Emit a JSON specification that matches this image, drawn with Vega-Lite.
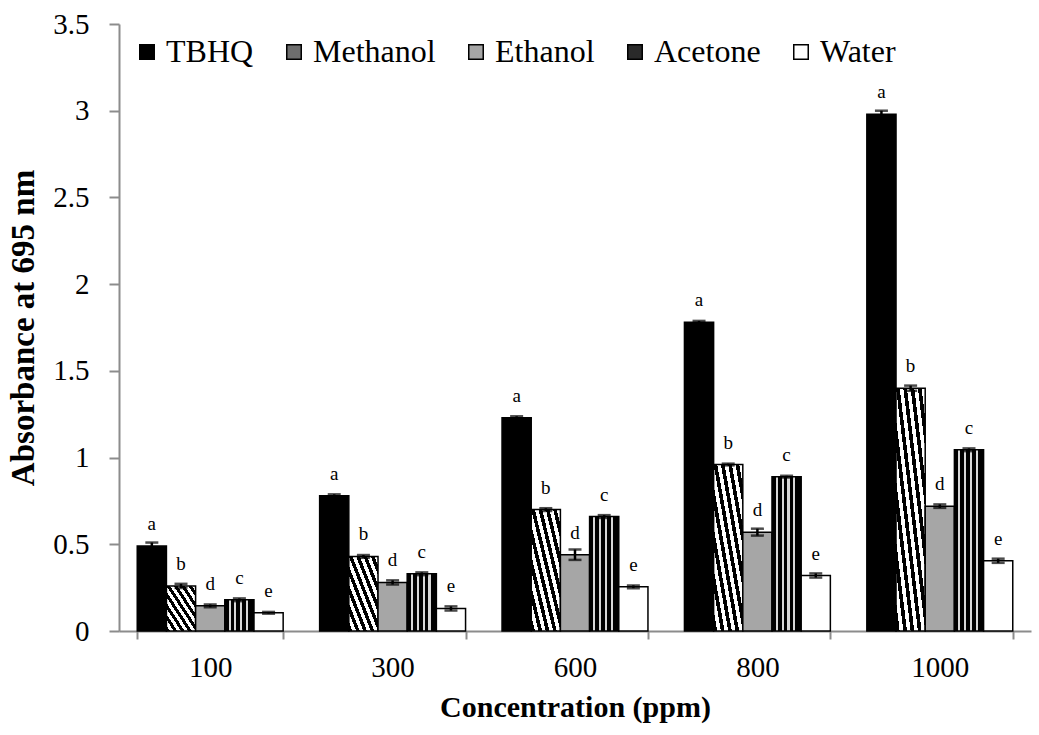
{
  "$schema": "https://vega.github.io/schema/vega-lite/v6.json",
  "width": 912,
  "height": 607,
  "autosize": "none",
  "padding": {"left": 119, "top": 24, "right": 8, "bottom": 104},
  "config": {
    "font": "Liberation Serif",
    "view": {"stroke": null},
    "legend": {"labelFont": "Liberation Serif"},
    "axis": {
      "domainColor": "#8c8c8c",
      "domainWidth": 2,
      "tickColor": "#8c8c8c",
      "tickWidth": 2,
      "labelColor": "#000000",
      "labelFont": "Liberation Serif",
      "labelFontSize": 29,
      "titleFont": "Liberation Serif",
      "titleFontSize": 30,
      "titleFontWeight": "bold",
      "titleColor": "#000000",
      "grid": false
    }
  },
  "data": {
    "values": [
      {"conc": "100", "solvent": "TBHQ", "value": 0.49, "err": 0.02, "letter": "a"},
      {"conc": "100", "solvent": "Methanol", "value": 0.26, "err": 0.012, "letter": "b"},
      {"conc": "100", "solvent": "Ethanol", "value": 0.145, "err": 0.008, "letter": "d"},
      {"conc": "100", "solvent": "Acetone", "value": 0.18, "err": 0.008, "letter": "c"},
      {"conc": "100", "solvent": "Water", "value": 0.105, "err": 0.005, "letter": "e"},
      {"conc": "300", "solvent": "TBHQ", "value": 0.78, "err": 0.008, "letter": "a"},
      {"conc": "300", "solvent": "Methanol", "value": 0.43, "err": 0.008, "letter": "b"},
      {"conc": "300", "solvent": "Ethanol", "value": 0.28, "err": 0.012, "letter": "d"},
      {"conc": "300", "solvent": "Acetone", "value": 0.33, "err": 0.008, "letter": "c"},
      {"conc": "300", "solvent": "Water", "value": 0.13, "err": 0.012, "letter": "e"},
      {"conc": "600", "solvent": "TBHQ", "value": 1.23, "err": 0.008, "letter": "a"},
      {"conc": "600", "solvent": "Methanol", "value": 0.70, "err": 0.008, "letter": "b"},
      {"conc": "600", "solvent": "Ethanol", "value": 0.44, "err": 0.03, "letter": "d"},
      {"conc": "600", "solvent": "Acetone", "value": 0.66, "err": 0.008, "letter": "c"},
      {"conc": "600", "solvent": "Water", "value": 0.255, "err": 0.008, "letter": "e"},
      {"conc": "800", "solvent": "TBHQ", "value": 1.78, "err": 0.008, "letter": "a"},
      {"conc": "800", "solvent": "Methanol", "value": 0.96, "err": 0.005, "letter": "b"},
      {"conc": "800", "solvent": "Ethanol", "value": 0.57, "err": 0.02, "letter": "d"},
      {"conc": "800", "solvent": "Acetone", "value": 0.89, "err": 0.005, "letter": "c"},
      {"conc": "800", "solvent": "Water", "value": 0.32, "err": 0.012, "letter": "e"},
      {"conc": "1000", "solvent": "TBHQ", "value": 2.98, "err": 0.02, "letter": "a"},
      {"conc": "1000", "solvent": "Methanol", "value": 1.40, "err": 0.015, "letter": "b"},
      {"conc": "1000", "solvent": "Ethanol", "value": 0.72, "err": 0.01, "letter": "d"},
      {"conc": "1000", "solvent": "Acetone", "value": 1.045, "err": 0.008, "letter": "c"},
      {"conc": "1000", "solvent": "Water", "value": 0.405, "err": 0.012, "letter": "e"}
    ]
  },
  "encoding": {
    "x": {
      "field": "conc",
      "type": "nominal",
      "sort": ["100", "300", "600", "800", "1000"],
      "scale": {"paddingInner": 0.2, "paddingOuter": 0.1},
      "title": "Concentration (ppm)",
      "axis": {"labelAngle": 0, "tickBand": "extent", "tickSize": 8, "labelPadding": 14, "titlePadding": 10}
    },
    "xOffset": {
      "field": "solvent",
      "type": "nominal",
      "sort": ["TBHQ", "Methanol", "Ethanol", "Acetone", "Water"],
      "scale": {"paddingInner": 0, "paddingOuter": 0}
    }
  },
  "layer": [
    {
      "mark": {"type": "bar", "stroke": "#000000", "strokeWidth": 1.5},
      "encoding": {
        "y": {
          "field": "value",
          "type": "quantitative",
          "scale": {"domain": [0, 3.5], "nice": false},
          "title": "Absorbance at 695 nm",
          "axis": {"values": [0, 0.5, 1, 1.5, 2, 2.5, 3, 3.5], "format": "~g", "tickSize": 10, "labelPadding": 20, "titlePadding": 12, "titleFontSize": 33}
        },
        "color": {
          "condition": [
            {
              "test": "datum.solvent === 'Methanol'",
              "value": {
                "gradient": "linear", "x1": 0, "y1": 1, "x2": 1, "y2": 0,
                "stops": [
                  {"offset": 0, "color": "#000000"}, {"offset": 0.0625, "color": "#000000"},
                  {"offset": 0.0625, "color": "#ffffff"}, {"offset": 0.125, "color": "#ffffff"},
                  {"offset": 0.125, "color": "#000000"}, {"offset": 0.1875, "color": "#000000"},
                  {"offset": 0.1875, "color": "#ffffff"}, {"offset": 0.25, "color": "#ffffff"},
                  {"offset": 0.25, "color": "#000000"}, {"offset": 0.3125, "color": "#000000"},
                  {"offset": 0.3125, "color": "#ffffff"}, {"offset": 0.375, "color": "#ffffff"},
                  {"offset": 0.375, "color": "#000000"}, {"offset": 0.4375, "color": "#000000"},
                  {"offset": 0.4375, "color": "#ffffff"}, {"offset": 0.5, "color": "#ffffff"},
                  {"offset": 0.5, "color": "#000000"}, {"offset": 0.5625, "color": "#000000"},
                  {"offset": 0.5625, "color": "#ffffff"}, {"offset": 0.625, "color": "#ffffff"},
                  {"offset": 0.625, "color": "#000000"}, {"offset": 0.6875, "color": "#000000"},
                  {"offset": 0.6875, "color": "#ffffff"}, {"offset": 0.75, "color": "#ffffff"},
                  {"offset": 0.75, "color": "#000000"}, {"offset": 0.8125, "color": "#000000"},
                  {"offset": 0.8125, "color": "#ffffff"}, {"offset": 0.875, "color": "#ffffff"},
                  {"offset": 0.875, "color": "#000000"}, {"offset": 0.9375, "color": "#000000"},
                  {"offset": 0.9375, "color": "#ffffff"}, {"offset": 1, "color": "#ffffff"}
                ]
              }
            },
            {
              "test": "datum.solvent === 'Acetone'",
              "value": {
                "gradient": "linear", "x1": 0, "y1": 0, "x2": 1, "y2": 0,
                "stops": [
                  {"offset": 0, "color": "#000000"}, {"offset": 0.13, "color": "#000000"},
                  {"offset": 0.13, "color": "#d8d8d8"}, {"offset": 0.2, "color": "#d8d8d8"},
                  {"offset": 0.2, "color": "#000000"}, {"offset": 0.33, "color": "#000000"},
                  {"offset": 0.33, "color": "#d8d8d8"}, {"offset": 0.4, "color": "#d8d8d8"},
                  {"offset": 0.4, "color": "#000000"}, {"offset": 0.53, "color": "#000000"},
                  {"offset": 0.53, "color": "#d8d8d8"}, {"offset": 0.6, "color": "#d8d8d8"},
                  {"offset": 0.6, "color": "#000000"}, {"offset": 0.73, "color": "#000000"},
                  {"offset": 0.73, "color": "#d8d8d8"}, {"offset": 0.8, "color": "#d8d8d8"},
                  {"offset": 0.8, "color": "#000000"}, {"offset": 1, "color": "#000000"}
                ]
              }
            }
          ],
          "field": "solvent",
          "type": "nominal",
          "sort": ["TBHQ", "Methanol", "Ethanol", "Acetone", "Water"],
          "scale": {
            "domain": ["TBHQ", "Methanol", "Ethanol", "Acetone", "Water"],
            "range": ["#000000", "#6e6e6e", "#a6a6a6", "#2a2a2a", "#ffffff"]
          },
          "legend": {
            "orient": "top-left",
            "direction": "horizontal",
            "title": null,
            "offset": 12,
            "padding": 0,
            "symbolType": "square",
            "symbolSize": 210,
            "symbolStrokeColor": "#000000",
            "symbolStrokeWidth": 1.5,
            "symbolOpacity": 1,
            "labelFont": "Liberation Serif",
            "labelFontSize": 32,
            "labelColor": "#000000",
            "labelOffset": 3,
            "columnPadding": 24,
            "labelLimit": 300,
            "encode": {
              "symbols": {
                "update": {
                  "stroke": {"value": "#000000"},
                  "strokeWidth": {"value": 1.5},
                  "fill": [
                    {
                      "test": "datum.value === 'Methanol'",
                      "value": {
                        "gradient": "linear", "x1": 0, "y1": 1, "x2": 1, "y2": 0,
                        "stops": [
                          {"offset": 0, "color": "#000000"}, {"offset": 0.2, "color": "#000000"},
                          {"offset": 0.2, "color": "#ffffff"}, {"offset": 0.3, "color": "#ffffff"},
                          {"offset": 0.3, "color": "#000000"}, {"offset": 0.45, "color": "#000000"},
                          {"offset": 0.45, "color": "#ffffff"}, {"offset": 0.55, "color": "#ffffff"},
                          {"offset": 0.55, "color": "#000000"}, {"offset": 0.7, "color": "#000000"},
                          {"offset": 0.7, "color": "#ffffff"}, {"offset": 0.8, "color": "#ffffff"},
                          {"offset": 0.8, "color": "#000000"}, {"offset": 1, "color": "#000000"}
                        ]
                      }
                    },
                    {
                      "test": "datum.value === 'Acetone'",
                      "value": {
                        "gradient": "linear", "x1": 0, "y1": 0, "x2": 1, "y2": 0,
                        "stops": [
                          {"offset": 0, "color": "#000000"}, {"offset": 0.25, "color": "#000000"},
                          {"offset": 0.25, "color": "#d8d8d8"}, {"offset": 0.35, "color": "#d8d8d8"},
                          {"offset": 0.35, "color": "#000000"}, {"offset": 0.6, "color": "#000000"},
                          {"offset": 0.6, "color": "#d8d8d8"}, {"offset": 0.7, "color": "#d8d8d8"},
                          {"offset": 0.7, "color": "#000000"}, {"offset": 1, "color": "#000000"}
                        ]
                      }
                    },
                    {"scale": "color", "field": "value"}
                  ]
                }
              }
            }
          }
        }
      }
    },
    {
      "mark": {"type": "errorbar", "ticks": true, "size": 13, "thickness": 2.5, "color": "#000000"},
      "encoding": {
        "y": {"field": "value", "type": "quantitative", "title": "Absorbance at 695 nm"},
        "yError": {"field": "err"}
      }
    },
    {
      "mark": {"type": "text", "baseline": "bottom", "dy": -12, "fontSize": 19, "font": "Liberation Serif", "color": "#000000"},
      "encoding": {
        "y": {"field": "value", "type": "quantitative", "title": "Absorbance at 695 nm"},
        "text": {"field": "letter"}
      }
    }
  ]
}
